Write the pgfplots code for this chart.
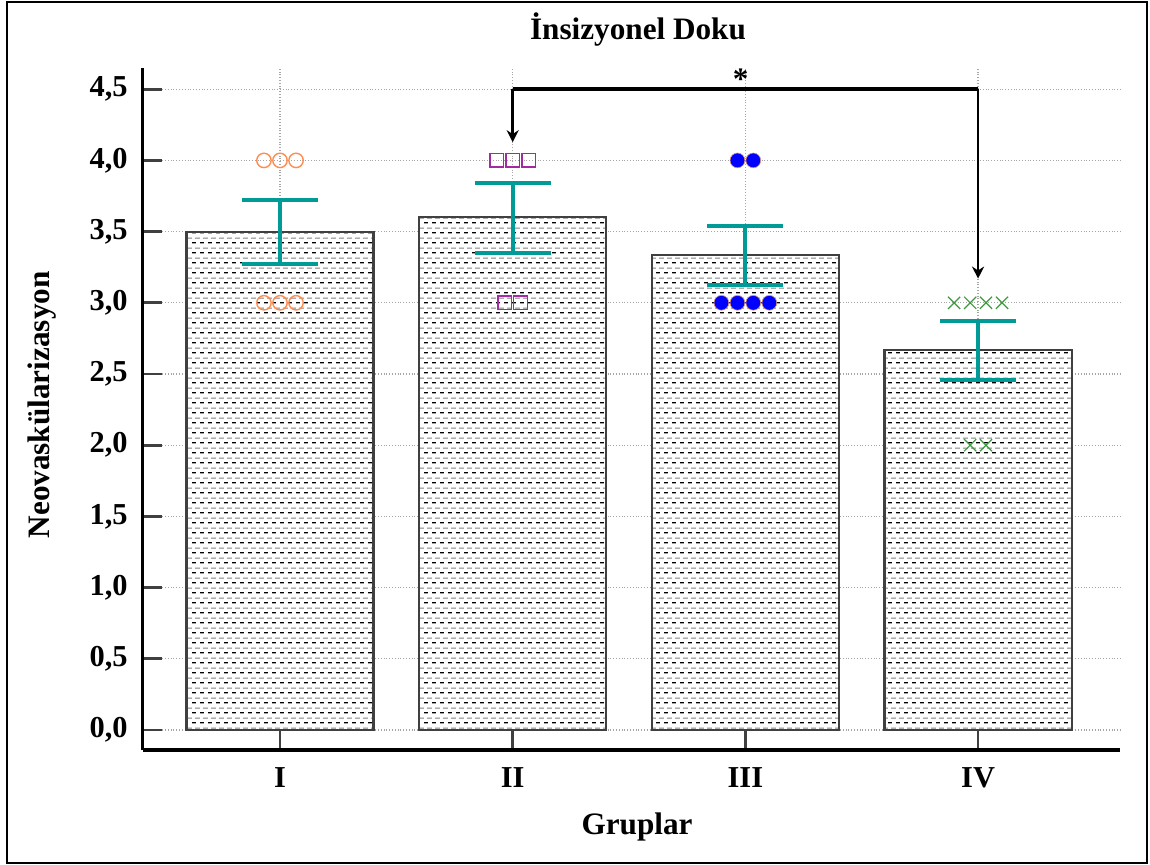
\documentclass[border=0pt]{standalone}
\usepackage{pgfplots}
\pgfplotsset{compat=1.18}
\usepackage{fontspec}
\setmainfont{Liberation Serif}
\usetikzlibrary{patterns,arrows.meta}
\definecolor{errteal}{RGB}{0,155,150}
\definecolor{orangec}{RGB}{255,140,80}
\definecolor{purplesq}{RGB}{165,40,165}
\definecolor{greenx}{RGB}{60,155,60}
\definecolor{dotedge}{RGB}{230,150,90}
\pgfdeclarepatterninherentlycolored{hdash}{\pgfpointorigin}{\pgfpoint{4pt}{5pt}}{\pgfpoint{4pt}{5pt}}{%
 \pgfsetlinewidth{0.6pt}%
 \pgfsetstrokecolor{black}%
 \pgfpathmoveto{\pgfpoint{0pt}{1.25pt}}\pgfpathlineto{\pgfpoint{2.2pt}{1.25pt}}\pgfusepath{stroke}%
 \pgfsetstrokecolor{black!50}%
 \pgfpathmoveto{\pgfpoint{1.8pt}{3.75pt}}\pgfpathlineto{\pgfpoint{4pt}{3.75pt}}\pgfusepath{stroke}%
}
\newcommand{\lblfont}{\fontsize{15.6}{18}\selectfont\bfseries}
\newcommand{\tkfont}{\fontsize{15.2}{18}\selectfont\bfseries}
\begin{document}
\begin{tikzpicture}
\useasboundingbox (-71.35pt,-57.5pt) rectangle (503.65pt,375pt);
\draw[line width=1pt] (-67.85pt,-56.5pt) rectangle (502.15pt,374pt);
\begin{axis}[
  at={(0,0)}, anchor=south west,
  scale only axis, width=488.65pt, height=341pt,
  xmin=-0.590, xmax=3.610, ymin=-0.1404, ymax=4.649,
  axis lines*=left,
  axis line style={line width=1.6pt, black},
  clip=false,
  xtick={0,1,2,3}, xticklabels={I,II,III,IV},
  ytick={0,0.5,1,1.5,2,2.5,3,3.5,4,4.5},
  yticklabels={{0,0},{0,5},{1,0},{1,5},{2,0},{2,5},{3,0},{3,5},{4,0},{4,5}},
  tick align=inside, major tick length=9.5pt,
  tick style={line width=1.4pt, black!75},
  grid=major, major grid style={densely dotted, line width=0.6pt, black!35},
  ticklabel style={font=\tkfont},
  yticklabel style={inner sep=0pt, anchor=east, xshift=-7.35pt},
  xticklabel style={inner sep=0pt, anchor=north, yshift=-8.5pt},
  title={İnsizyonel Doku},
  title style={at={(axis description cs:0.5068,1.0239)}, anchor=base, inner sep=0pt, font=\lblfont},
  xlabel={Gruplar},
  xlabel style={at={(axis description cs:0.5058,-0.1246)}, anchor=base, inner sep=0pt, font=\lblfont},
  ylabel={Neovaskülarizasyon},
  ylabel style={at={(axis description cs:-0.0949,0.506)}, anchor=base, inner sep=0pt, font=\lblfont},
]
\addplot[ybar, bar width=0.804, draw=black!75, line width=1.1pt, preaction={fill=white}, pattern=hdash]
  coordinates {(0,3.5) (1,3.6) (2,3.333) (3,2.667)};
\addplot[only marks, mark=o, mark size=3.6pt, orangec, line width=0.7pt]
  coordinates {(-0.069,4) (0,4) (0.069,4) (-0.069,3) (0,3) (0.069,3)};
\addplot[only marks, mark=square, mark size=3.4pt, purplesq, line width=0.7pt]
  coordinates {(0.931,4) (1,4) (1.069,4) (0.966,3) (1.034,3)};
\addplot[only marks, mark=*, mark size=3.7pt, mark options={draw=dotedge, fill=blue, line width=0.3pt}]
  coordinates {(1.966,4) (2.034,4) (1.897,3) (1.966,3) (2.034,3) (2.103,3)};
\addplot[only marks, mark=x, mark size=4.3pt, greenx, line width=0.6pt]
  coordinates {(2.897,3) (2.966,3) (3.034,3) (3.103,3) (2.966,2) (3.034,2)};
\addplot[draw=none, mark=none,
  error bars/.cd, y dir=both, y explicit,
  error bar style={draw=errteal, line width=2pt},
  error mark options={rotate=90, draw=errteal, line width=2pt, mark size=19pt}]
  coordinates {(0,3.5) += (0,0.22) -= (0,0.228)
               (1,3.6) += (0,0.243) -= (0,0.248)
               (2,3.333) += (0,0.205) -= (0,0.211)
               (3,2.667) += (0,0.206) -= (0,0.212)};
\draw[line width=2pt] (axis cs:1,4.5) -- (axis cs:3,4.5);
\draw[line width=1.4pt, -{Stealth[length=6pt,width=6pt]}] (axis cs:1,4.5) -- (axis cs:1,4.128);
\draw[line width=1.4pt, -{Stealth[length=6pt,width=6pt]}] (axis cs:3,4.5) -- (axis cs:3,3.17);
\node[anchor=base, inner sep=0pt, font=\lblfont] at (axis cs:1.98,4.5) {*};
\end{axis}
\end{tikzpicture}
\end{document}
